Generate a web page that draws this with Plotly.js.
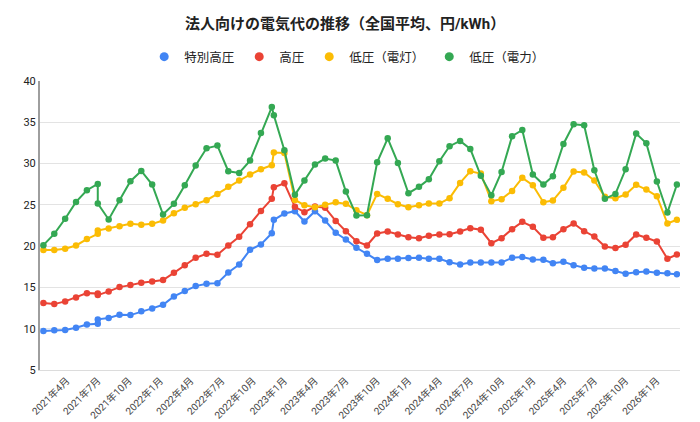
<!DOCTYPE html>
<html>
<head>
<meta charset="utf-8">
<script src="https://cdn.plot.ly/plotly-3.0.1.min.js"></script>
<style>
  html, body { margin: 0; padding: 0; background: #fff; }
  #chart { width: 700px; height: 422px; }
</style>
</head>
<body>
<div id="chart"></div>
<script>
// Colours (Google Sheets palette)
const BLUE = "#4285f4";
const RED = "#ea4335";
const YELLOW = "#fbbc04";
const GREEN = "#34a853";
const FONT = "Roboto, Arial, 'Noto Sans CJK JP', sans-serif";

// x dates as they sit on the axis (the early rows are spaced a little over a month,
// 2021-07 appears twice and there is an extra row just before 2022-12)
const dates = [
  "2021-01-22", "2021-02-23", "2021-03-27", "2021-04-28", "2021-05-30",
  "2021-07-01", "2021-07-01", "2021-08-02", "2021-09-03", "2021-10-05",
  "2021-11-06", "2021-12-08", "2022-01-09", "2022-02-10", "2022-03-14",
  "2022-04-15", "2022-05-17", "2022-06-18", "2022-07-20", "2022-08-21",
  "2022-09-22", "2022-10-24", "2022-11-25", "2022-12-01", "2023-01-01",
  "2023-02-01", "2023-03-01", "2023-04-01", "2023-05-01", "2023-06-01",
  "2023-07-01", "2023-08-01", "2023-09-01", "2023-10-01", "2023-11-01",
  "2023-12-01", "2024-01-01", "2024-02-01", "2024-03-01", "2024-04-01",
  "2024-05-01", "2024-06-01", "2024-07-01", "2024-08-01", "2024-09-01",
  "2024-10-01", "2024-11-01", "2024-12-01", "2025-01-01", "2025-02-01",
  "2025-03-01", "2025-04-01", "2025-05-01", "2025-06-01", "2025-07-01",
  "2025-08-01", "2025-09-01", "2025-10-01", "2025-11-01", "2025-12-01",
  "2026-01-01", "2026-02-01", "2026-03-01"
];

// 特別高圧
const extraHigh = [
  9.72, 9.80, 9.84, 10.12, 10.52, 10.60, 11.13, 11.29, 11.69, 11.65,
  12.10, 12.46, 12.90, 13.91, 14.56, 15.16, 15.44, 15.52, 16.81, 17.78,
  19.56, 20.20, 21.57, 23.19, 23.95, 24.23, 22.98, 24.23, 23.10, 21.61,
  20.81, 19.80, 19.07, 18.31, 18.47, 18.47, 18.55, 18.59, 18.47, 18.47,
  18.06, 17.78, 18.02, 18.02, 18.02, 18.02, 18.59, 18.67, 18.39, 18.35,
  17.94, 18.10, 17.70, 17.38, 17.30, 17.30, 16.98, 16.65, 16.85, 16.94,
  16.77, 16.73, 16.61
];

// 高圧
const high = [
  13.10, 12.98, 13.31, 13.79, 14.31, 14.27, 14.07, 14.52, 15.04, 15.28,
  15.56, 15.73, 15.89, 16.77, 17.70, 18.59, 19.07, 18.95, 20.08, 21.13,
  22.66, 24.27, 25.73, 27.14, 27.62, 24.76, 24.11, 24.80, 24.64, 23.06,
  21.81, 20.60, 20.08, 21.53, 21.77, 21.41, 21.09, 20.97, 21.25, 21.41,
  21.45, 21.77, 22.18, 21.98, 20.36, 20.97, 22.06, 22.94, 22.34, 21.01,
  21.09, 22.06, 22.74, 21.81, 21.17, 19.96, 19.76, 20.16, 21.41, 21.01,
  20.56, 18.47, 18.99
];

// 低圧（電灯）
const lowLight = [
  19.52, 19.52, 19.68, 20.08, 20.85, 21.49, 21.90, 22.14, 22.42, 22.70,
  22.58, 22.70, 23.10, 23.99, 24.64, 25.08, 25.56, 26.33, 27.18, 27.94,
  28.67, 29.31, 29.80, 31.33, 31.29, 25.60, 24.96, 24.72, 25.00, 25.32,
  25.12, 24.35, 23.75, 26.33, 25.73, 25.08, 24.72, 24.96, 25.16, 25.16,
  25.81, 27.66, 29.07, 28.79, 25.44, 25.69, 26.69, 28.27, 27.38, 25.32,
  25.52, 27.06, 29.03, 28.91, 27.94, 25.97, 25.81, 26.25, 27.42, 26.85,
  26.05, 22.74, 23.19
];

// 低圧（電力）
const lowPower = [
  20.12, 21.49, 23.31, 25.36, 26.77, 27.54, 25.16, 23.23, 25.56, 27.86,
  29.11, 27.46, 23.83, 25.12, 27.38, 29.76, 31.85, 32.18, 29.07, 28.87,
  30.36, 33.71, 36.85, 35.85, 31.61, 26.21, 27.94, 29.88, 30.60, 30.36,
  26.61, 23.71, 23.75, 30.16, 33.06, 30.08, 26.41, 27.18, 28.10, 30.28,
  32.10, 32.74, 31.77, 28.51, 26.17, 28.99, 33.31, 34.07, 28.67, 27.46,
  28.47, 32.38, 34.76, 34.64, 29.19, 25.73, 26.33, 29.31, 33.63, 32.46,
  27.82, 24.07, 27.46
];

const tickDates = [
  "2021-04-01", "2021-07-01", "2021-10-01", "2022-01-01", "2022-04-01",
  "2022-07-01", "2022-10-01", "2023-01-01", "2023-04-01", "2023-07-01",
  "2023-10-01", "2024-01-01", "2024-04-01", "2024-07-01", "2024-10-01",
  "2025-01-01", "2025-04-01", "2025-07-01", "2025-10-01", "2026-01-01"
];
const tickLabels = [
  "2021年4月", "2021年7月", "2021年10月", "2022年1月", "2022年4月",
  "2022年7月", "2022年10月", "2023年1月", "2023年4月", "2023年7月",
  "2023年10月", "2024年1月", "2024年4月", "2024年7月", "2024年10月",
  "2025年1月", "2025年4月", "2025年7月", "2025年10月", "2026年1月"
];

const seriesDefs = [
  { name: "特別高圧", y: extraHigh, color: BLUE },
  { name: "高圧", y: high, color: RED },
  { name: "低圧（電灯）", y: lowLight, color: YELLOW },
  { name: "低圧（電力）", y: lowPower, color: GREEN },
];

const traces = [];
// the lines themselves (legend comes from the dot-only entries below)
for (const s of seriesDefs) {
  traces.push({
    x: dates,
    y: s.y,
    type: "scatter",
    mode: "lines+markers",
    line: { color: s.color, width: 2 },
    marker: { color: s.color, size: 6.5 },
    showlegend: false,
    hoverinfo: "x+y+name",
    name: s.name,
  });
}
// Sheets-style legend: a dot, no line
for (const s of seriesDefs) {
  traces.push({
    x: [null],
    y: [null],
    type: "scatter",
    mode: "markers",
    marker: { color: s.color, size: 9 },
    name: s.name,
  });
}

const layout = {
  width: 700,
  height: 422,
  margin: { l: 40, r: 20, t: 81, b: 52 },
  paper_bgcolor: "#fff",
  plot_bgcolor: "#fff",
  font: { family: FONT, color: "#222" },
  title: {
    text: "<b>法人向けの電気代の推移（全国平均、円/kWh）</b>",
    font: { family: FONT, size: 15, color: "#222" },
    x: 0.493,
    xanchor: "center",
    y: 0.943,
    yanchor: "middle",
  },
  showlegend: true,
  legend: {
    orientation: "h",
    x: 0.48,
    xanchor: "center",
    y: 1.083,
    yanchor: "middle",
    font: { family: FONT, size: 12.5, color: "#222" },
    itemwidth: 30,
  },
  xaxis: {
    type: "date",
    range: ["2021-01-12", "2026-03-10"],
    tickvals: tickDates,
    ticktext: tickLabels,
    tickangle: -45,
    tickfont: { family: FONT, size: 10, color: "#444" },
    showgrid: false,
    showline: true,
    linecolor: "#dcdcdc",
    linewidth: 1,
    ticks: "",
    zeroline: false,
    automargin: false,
    fixedrange: true,
  },
  yaxis: {
    range: [5, 40],
    tick0: 5,
    dtick: 5,
    tickfont: { family: FONT, size: 11, color: "#222" },
    gridcolor: "#e3e3e3",
    gridwidth: 1,
    showline: true,
    linecolor: "#9e9e9e",
    linewidth: 2,
    ticks: "",
    zeroline: false,
    automargin: false,
    fixedrange: true,
  },
};

Plotly.newPlot("chart", traces, layout, { displayModeBar: false, responsive: false });
</script>
</body>
</html>
